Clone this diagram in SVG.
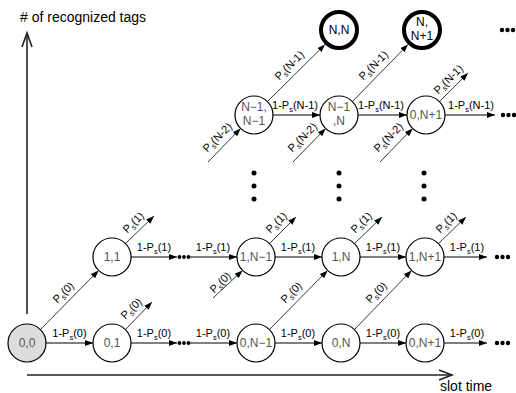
<svg xmlns="http://www.w3.org/2000/svg" width="516" height="393" viewBox="0 0 516 393">
<style>
text{font-family:"Liberation Sans",Arial,sans-serif}
.lbl{font-size:11px;fill:#000;text-anchor:middle}
.sub{font-size:7.5px}
.nt{font-size:12px;fill:#555;text-anchor:middle}
.ntb{font-size:12px;fill:#000;text-anchor:middle}
.node{fill:#fff;stroke:#000;stroke-width:1.2}
.start{fill:#ddd;stroke:#000;stroke-width:1.2}
.thick{fill:#fff;stroke:#000;stroke-width:4}
.h{stroke:#000;stroke-width:1.1;fill:none}
.d{stroke:#222;stroke-width:0.9;fill:none}
.ax{stroke:#222;stroke-width:1.6;fill:none}
.dot{fill:#000}
</style>
<defs>
<marker id="ah" viewBox="0 0 8 6" refX="8" refY="3" markerWidth="8" markerHeight="6" orient="auto" markerUnits="userSpaceOnUse"><path d="M0,0 L8,3 L0,6 z" fill="#000"/></marker>
</defs>

<g id="axes">
<path class="ax" d="M27,314 V34"/>
<path class="ax" d="M22,47 L27,33 L32,47"/>
<path class="ax" d="M27,375 H452"/>
<path class="ax" d="M439,370 L452,375 L439,380"/>
<text x="20" y="22" style="font-size:14px"># of recognized tags</text>
<text x="440" y="391" style="font-size:14px">slot time</text>
</g>

<g id="connectors">
<path class="h" d="M46,343 H93" marker-end="url(#ah)"/>
<path class="h" d="M131,343 H177" marker-end="url(#ah)"/>
<path class="h" d="M189,343 H237" marker-end="url(#ah)"/>
<path class="h" d="M275,343 H322" marker-end="url(#ah)"/>
<path class="h" d="M360,343 H406" marker-end="url(#ah)"/>
<path class="h" d="M444,343 H487" marker-end="url(#ah)"/>
<path class="h" d="M131,257 H177" marker-end="url(#ah)"/>
<path class="h" d="M189,257 H237" marker-end="url(#ah)"/>
<path class="h" d="M275,257 H322" marker-end="url(#ah)"/>
<path class="h" d="M360,257 H406" marker-end="url(#ah)"/>
<path class="h" d="M444,257 H487" marker-end="url(#ah)"/>
<path class="h" d="M273,115 H320" marker-end="url(#ah)"/>
<path class="h" d="M358,115 H407" marker-end="url(#ah)"/>
<path class="h" d="M445,115 H495" marker-end="url(#ah)"/>
<path class="d" d="M40.4,329.6 L98.6,270.4" marker-end="url(#ah)"/>
<path class="d" d="M125.4,329.6 L152,302" marker-end="url(#ah)"/>
<path class="d" d="M125.4,243.6 L154,216" marker-end="url(#ah)"/>
<path class="d" d="M213,298 L242.6,270.4" marker-end="url(#ah)"/>
<path class="d" d="M269.4,243.6 L296,217" marker-end="url(#ah)"/>
<path class="d" d="M269.4,329.6 L327.6,270.4" marker-end="url(#ah)"/>
<path class="d" d="M354.4,243.6 L382,217" marker-end="url(#ah)"/>
<path class="d" d="M354.4,329.6 L411.6,270.4" marker-end="url(#ah)"/>
<path class="d" d="M438.4,243.6 L466,217" marker-end="url(#ah)"/>
<path class="d" d="M208,162 L240.6,128.4" marker-end="url(#ah)"/>
<path class="d" d="M267.4,101.6 L325,44.5" marker-end="url(#ah)"/>
<path class="d" d="M293,162 L325.6,128.4" marker-end="url(#ah)"/>
<path class="d" d="M352.4,101.6 L408,44.5" marker-end="url(#ah)"/>
<path class="d" d="M380,162 L412.6,128.4" marker-end="url(#ah)"/>
<path class="d" d="M439.4,101.6 L468,73" marker-end="url(#ah)"/>

<circle class="dot" cx="179.5" cy="343" r="1.9"/><circle class="dot" cx="184" cy="343" r="1.9"/><circle class="dot" cx="188.5" cy="343" r="1.9"/>
<circle class="dot" cx="179.5" cy="257" r="1.9"/><circle class="dot" cx="184" cy="257" r="1.9"/><circle class="dot" cx="188.5" cy="257" r="1.9"/>
<circle class="dot" cx="497" cy="343" r="2.2"/><circle class="dot" cx="502.5" cy="343" r="2.2"/><circle class="dot" cx="508" cy="343" r="2.2"/>
<circle class="dot" cx="497" cy="257" r="2.2"/><circle class="dot" cx="502.5" cy="257" r="2.2"/><circle class="dot" cx="508" cy="257" r="2.2"/>
<circle class="dot" cx="503" cy="115" r="2.2"/><circle class="dot" cx="508.5" cy="115" r="2.2"/><circle class="dot" cx="514" cy="115" r="2.2"/>
<circle class="dot" cx="502" cy="30" r="2.2"/><circle class="dot" cx="507.5" cy="30" r="2.2"/><circle class="dot" cx="513" cy="30" r="2.2"/>
<circle class="dot" cx="254" cy="173" r="2.5"/><circle class="dot" cx="254" cy="186" r="2.5"/><circle class="dot" cx="254" cy="199" r="2.5"/>
<circle class="dot" cx="339" cy="173" r="2.5"/><circle class="dot" cx="339" cy="186" r="2.5"/><circle class="dot" cx="339" cy="199" r="2.5"/>
<circle class="dot" cx="424" cy="173" r="2.5"/><circle class="dot" cx="424" cy="186" r="2.5"/><circle class="dot" cx="424" cy="199" r="2.5"/>

<text class="lbl" x="69.5" y="337">1-P<tspan class="sub" dy="2.5">s</tspan><tspan dy="-2.5">(0)</tspan></text>
<text class="lbl" x="154" y="337">1-P<tspan class="sub" dy="2.5">s</tspan><tspan dy="-2.5">(0)</tspan></text>
<text class="lbl" x="213" y="337">1-P<tspan class="sub" dy="2.5">s</tspan><tspan dy="-2.5">(0)</tspan></text>
<text class="lbl" x="298" y="337">1-P<tspan class="sub" dy="2.5">s</tspan><tspan dy="-2.5">(0)</tspan></text>
<text class="lbl" x="383" y="337">1-P<tspan class="sub" dy="2.5">s</tspan><tspan dy="-2.5">(0)</tspan></text>
<text class="lbl" x="467" y="337">1-P<tspan class="sub" dy="2.5">s</tspan><tspan dy="-2.5">(0)</tspan></text>
<text class="lbl" x="154" y="251">1-P<tspan class="sub" dy="2.5">s</tspan><tspan dy="-2.5">(1)</tspan></text>
<text class="lbl" x="213" y="251">1-P<tspan class="sub" dy="2.5">s</tspan><tspan dy="-2.5">(1)</tspan></text>
<text class="lbl" x="298" y="251">1-P<tspan class="sub" dy="2.5">s</tspan><tspan dy="-2.5">(1)</tspan></text>
<text class="lbl" x="383" y="251">1-P<tspan class="sub" dy="2.5">s</tspan><tspan dy="-2.5">(1)</tspan></text>
<text class="lbl" x="467" y="251">1-P<tspan class="sub" dy="2.5">s</tspan><tspan dy="-2.5">(1)</tspan></text>
<text class="lbl" x="295" y="109">1-P<tspan class="sub" dy="2.5">s</tspan><tspan dy="-2.5">(N-1)</tspan></text>
<text class="lbl" x="381" y="109">1-P<tspan class="sub" dy="2.5">s</tspan><tspan dy="-2.5">(N-1)</tspan></text>
<text class="lbl" x="471" y="109">1-P<tspan class="sub" dy="2.5">s</tspan><tspan dy="-2.5">(N-1)</tspan></text>

<text class="lbl" transform="translate(66,295) rotate(-45)">P<tspan class="sub" dy="2.5">s</tspan><tspan dy="-2.5">(0)</tspan></text>
<text class="lbl" transform="translate(134,311) rotate(-45)">P<tspan class="sub" dy="2.5">s</tspan><tspan dy="-2.5">(0)</tspan></text>
<text class="lbl" transform="translate(136,225) rotate(-45)">P<tspan class="sub" dy="2.5">s</tspan><tspan dy="-2.5">(1)</tspan></text>
<text class="lbl" transform="translate(223,285) rotate(-45)">P<tspan class="sub" dy="2.5">s</tspan><tspan dy="-2.5">(0)</tspan></text>
<text class="lbl" transform="translate(279,225) rotate(-45)">P<tspan class="sub" dy="2.5">s</tspan><tspan dy="-2.5">(1)</tspan></text>
<text class="lbl" transform="translate(294,295) rotate(-45)">P<tspan class="sub" dy="2.5">s</tspan><tspan dy="-2.5">(0)</tspan></text>
<text class="lbl" transform="translate(364,225) rotate(-45)">P<tspan class="sub" dy="2.5">s</tspan><tspan dy="-2.5">(1)</tspan></text>
<text class="lbl" transform="translate(379,295) rotate(-45)">P<tspan class="sub" dy="2.5">s</tspan><tspan dy="-2.5">(0)</tspan></text>
<text class="lbl" transform="translate(449,225) rotate(-45)">P<tspan class="sub" dy="2.5">s</tspan><tspan dy="-2.5">(1)</tspan></text>
<text class="lbl" transform="translate(220,140) rotate(-45)">P<tspan class="sub" dy="2.5">s</tspan><tspan dy="-2.5">(N-2)</tspan></text>
<text class="lbl" transform="translate(292,68) rotate(-45)">P<tspan class="sub" dy="2.5">s</tspan><tspan dy="-2.5">(N-1)</tspan></text>
<text class="lbl" transform="translate(305,140) rotate(-45)">P<tspan class="sub" dy="2.5">s</tspan><tspan dy="-2.5">(N-2)</tspan></text>
<text class="lbl" transform="translate(376,68) rotate(-45)">P<tspan class="sub" dy="2.5">s</tspan><tspan dy="-2.5">(N-1)</tspan></text>
<text class="lbl" transform="translate(391,140) rotate(-45)">P<tspan class="sub" dy="2.5">s</tspan><tspan dy="-2.5">(N-2)</tspan></text>
<text class="lbl" transform="translate(451,82) rotate(-45)">P<tspan class="sub" dy="2.5">s</tspan><tspan dy="-2.5">(N-1)</tspan></text>
</g>

<g id="n00"><circle class="start" cx="27" cy="343" r="19"/><text class="nt" x="27" y="347">0,0</text></g>
<g id="n01"><circle class="node" cx="112" cy="343" r="19"/><text class="nt" x="112" y="347">0,1</text></g>
<g id="n0Nm1"><circle class="node" cx="256" cy="343" r="19"/><text class="nt" x="256" y="347">0,N−1</text></g>
<g id="n0N"><circle class="node" cx="341" cy="343" r="19"/><text class="nt" x="341" y="347">0,N</text></g>
<g id="n0Np1"><circle class="node" cx="425" cy="343" r="19"/><text class="nt" x="425" y="347">0,N+1</text></g>
<g id="n11"><circle class="node" cx="112" cy="257" r="19"/><text class="nt" x="112" y="261">1,1</text></g>
<g id="n1Nm1"><circle class="node" cx="256" cy="257" r="19"/><text class="nt" x="256" y="261">1,N−1</text></g>
<g id="n1N"><circle class="node" cx="341" cy="257" r="19"/><text class="nt" x="341" y="261">1,N</text></g>
<g id="n1Np1"><circle class="node" cx="425" cy="257" r="19"/><text class="nt" x="425" y="261">1,N+1</text></g>
<g id="nNm1Nm1"><circle class="node" cx="254" cy="115" r="19"/><text class="nt" x="254" y="111">N−1,</text><text class="nt" x="254" y="125">N−1</text></g>
<g id="nNm1N"><circle class="node" cx="339" cy="115" r="19"/><text class="nt" x="339" y="111">N−1</text><text class="nt" x="339" y="125">,N</text></g>
<g id="n0Np1top"><circle class="node" cx="426" cy="115" r="19"/><text class="nt" x="426" y="119">0,N+1</text></g>
<g id="nNN"><circle class="thick" cx="339" cy="30" r="18"/><text class="ntb" x="339" y="34">N,N</text></g>
<g id="nNNp1"><circle class="thick" cx="422" cy="30" r="18"/><text class="ntb" x="422" y="26">N,</text><text class="ntb" x="422" y="40">N+1</text></g>
</svg>
